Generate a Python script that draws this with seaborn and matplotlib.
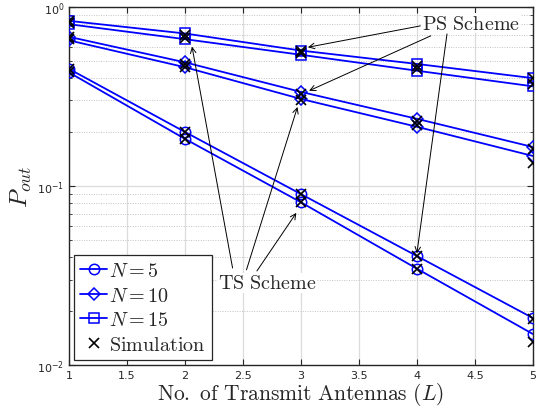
import numpy as np
import pandas as pd
import matplotlib
matplotlib.use("Agg")
import matplotlib.pyplot as plt
import seaborn as sns
from matplotlib.lines import Line2D
from matplotlib.ticker import LogLocator, NullFormatter

# ---------------- Data ----------------
antennas = [1, 2, 3, 4, 5]

# analytical curves (upper = PS scheme, lower = TS scheme)
n5_ps = [0.45, 0.200, 0.090, 0.0406, 0.0183]
n5_ts = [0.43, 0.183, 0.081, 0.0345, 0.0149]
n10_ps = [0.68, 0.49, 0.335, 0.237, 0.165]
n10_ts = [0.65, 0.46, 0.306, 0.214, 0.147]
n15_ps = [0.835, 0.71, 0.57, 0.48, 0.40]
n15_ts = [0.80, 0.66, 0.54, 0.44, 0.36]

# simulation points
sim_n5_ps = [0.45, 0.200, 0.090, 0.0406, 0.0180]
sim_n5_ts = [0.43, 0.183, 0.081, 0.0345, 0.0135]
sim_n10_ps = [0.68, 0.48, 0.325, 0.230, 0.160]
sim_n10_ts = [0.66, 0.46, 0.300, 0.220, 0.135]
sim_n15_ps = [0.83, 0.70, 0.57, 0.47, 0.40]
sim_n15_ts = [0.81, 0.67, 0.55, 0.45, 0.37]

series = [
    ("N=5", "o", n5_ps, n5_ts, sim_n5_ps, sim_n5_ts),
    ("N=10", "D", n10_ps, n10_ts, sim_n10_ps, sim_n10_ts),
    ("N=15", "s", n15_ps, n15_ts, sim_n15_ps, sim_n15_ts),
]

# ---------------- Style ----------------
sns.set_style("ticks")
plt.rcParams["mathtext.fontset"] = "cm"
plt.rcParams["font.family"] = ["DejaVu Sans"]

fig = plt.figure(figsize=(5.36, 4.14), dpi=100)
ax = fig.add_axes([0.129, 0.116, 0.865, 0.865])

blue = "#0000ff"
for name, mk, ps, ts, sps, sts in series:
    ms = 6.5 if mk == "D" else 7.5
    for vals in (ps, ts):
        sns.lineplot(x=antennas, y=vals, ax=ax, color=blue, lw=1.3, marker=mk,
                     markersize=ms, markerfacecolor="none", markeredgecolor=blue,
                     markeredgewidth=1.1, zorder=3)
    for vals in (sps, sts):
        sns.lineplot(x=antennas, y=vals, ax=ax, color="black", linestyle="none",
                     marker="x", markersize=7, markeredgecolor="black",
                     markeredgewidth=1.2, zorder=4)

ax.set_yscale("log")
ax.set_xlim(1, 5)
ax.set_ylim(1e-2, 1)
ax.set_xticks(np.arange(1, 5.01, 0.5))
ax.set_xticklabels(["1", "1.5", "2", "2.5", "3", "3.5", "4", "4.5", "5"])
ax.yaxis.set_minor_locator(LogLocator(base=10, subs=np.arange(2, 10)))
ax.yaxis.set_minor_formatter(NullFormatter())

ax.grid(True, which="major", color="#dcdcdc", lw=0.9, ls="-")
ax.grid(True, which="minor", axis="y", color="#c4c4c4", lw=0.7, ls=(0, (1, 1.5)))
ax.set_axisbelow(True)

ax.tick_params(which="both", direction="in", top=True, right=True,
               labelsize=8, colors="#262626", length=4)
ax.tick_params(which="minor", length=2.5)
for s in ax.spines.values():
    s.set_linewidth(1.0)
    s.set_color("#262626")

ax.set_xlabel(r"$\mathrm{No.\ of\ Transmit\ Antennas}\ (L)$", fontsize=15.5, labelpad=0)
ax.set_ylabel(r"$P_{out}$", fontsize=18, labelpad=2)

# ---------------- Annotations ----------------
arrow = dict(arrowstyle="->", color="black", lw=0.7, shrinkA=0, shrinkB=0)
ax.text(4.47, 0.81, r"$\mathrm{PS\ Scheme}$", fontsize=14.5, ha="center", va="center",
        bbox=dict(facecolor="white", edgecolor="none", pad=0.5), zorder=5)
ax.annotate("", xy=(3.06, 0.595), xytext=(4.03, 0.783), arrowprops=arrow, zorder=5)
ax.annotate("", xy=(3.07, 0.34), xytext=(4.12, 0.689), arrowprops=arrow, zorder=5)
ax.annotate("", xy=(4.0, 0.042), xytext=(4.26, 0.706), arrowprops=arrow, zorder=5)

ax.text(2.71, 0.0287, r"$\mathrm{TS\ Scheme}$", fontsize=14.5, ha="center", va="center",
        bbox=dict(facecolor="white", edgecolor="none", pad=0.5), zorder=5)
ax.annotate("", xy=(2.06, 0.60), xytext=(2.41, 0.0348), arrowprops=arrow, zorder=5)
ax.annotate("", xy=(2.97, 0.276), xytext=(2.53, 0.034), arrowprops=arrow, zorder=5)
ax.annotate("", xy=(2.96, 0.0707), xytext=(2.62, 0.0335), arrowprops=arrow, zorder=5)

# ---------------- Legend ----------------
handles = [
    Line2D([], [], color=blue, marker="o", mfc="none", ms=7.5, mew=1.1, lw=1.3),
    Line2D([], [], color=blue, marker="D", mfc="none", ms=6.5, mew=1.1, lw=1.3),
    Line2D([], [], color=blue, marker="s", mfc="none", ms=7.5, mew=1.1, lw=1.3),
    Line2D([], [], color="black", marker="x", ls="none", ms=7, mew=1.2),
]
labels = [r"$N = 5$", r"$N = 10$", r"$N = 15$", r"$\mathrm{Simulation}$"]
leg = ax.legend(handles, labels, loc="lower left", fontsize=14.5, frameon=True,
                fancybox=False, edgecolor="#262626", framealpha=1,
                handlelength=1.35, handletextpad=0.1, borderpad=0.3,
                labelspacing=0.28, borderaxespad=0.25)
leg.get_frame().set_linewidth(0.9)
leg.set_zorder(6)

fig.savefig("out.png", dpi=100)
